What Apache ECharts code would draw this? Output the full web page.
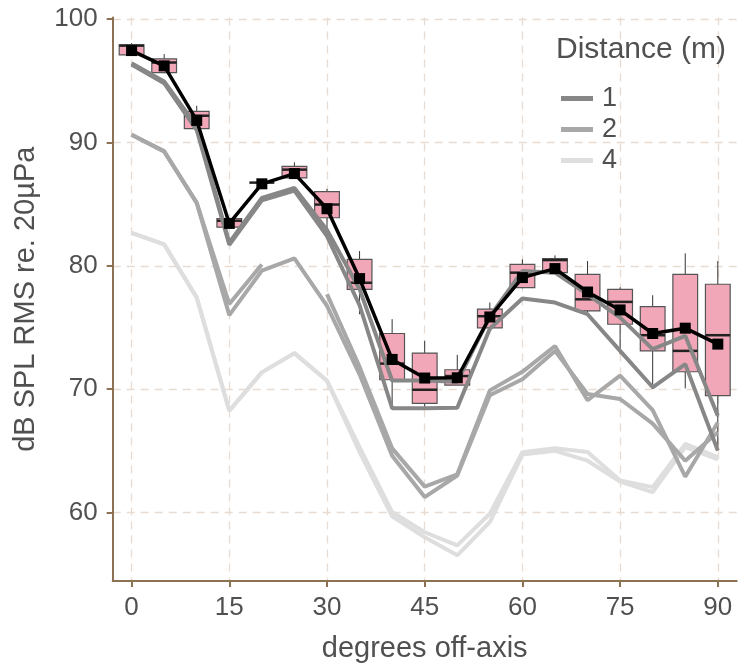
<!DOCTYPE html>
<html><head><meta charset="utf-8">
<script src="https://cdn.jsdelivr.net/npm/echarts@6/dist/echarts.min.js"></script>
<style>html,body{margin:0;padding:0;background:#fff}#c{width:739px;height:668px}</style>
</head><body><div id="c"></div>
<script>
// ---- data ----
const degrees   = [0, 5, 10, 15, 20, 25, 30, 35, 40, 45, 50, 55, 60, 65, 70, 75, 80, 85, 90];
const boxMax    = [98.04, 97.15, 92.97, 83.83, 86.74, 88.38, 86.23, 81.19, 75.67, 73.91, 72.78, 77.02, 80.52, 80.84, 80.38, 78.25, 77.61, 81.00, 80.38];
const boxQ3     = [97.90, 96.77, 92.51, 83.83, 86.74, 88.06, 86.01, 80.52, 74.51, 72.92, 71.57, 76.48, 80.11, 80.57, 79.30, 78.09, 76.68, 79.30, 78.50];
const boxMedian = [97.84, 96.47, 92.16, 83.65, 86.74, 87.79, 84.96, 78.62, 72.07, 69.95, 71.06, 75.91, 79.44, 80.46, 77.28, 77.07, 74.37, 73.10, 74.37];
const boxQ1     = [97.09, 95.66, 91.11, 83.13, 86.74, 87.12, 83.89, 78.09, 70.76, 68.85, 70.33, 74.96, 78.23, 79.44, 76.34, 75.26, 73.10, 71.41, 69.47];
const boxMin    = [97.09, 95.60, 90.90, 83.13, 86.74, 87.12, 82.81, 76.07, 68.39, 68.39, 70.33, 74.86, 78.17, 79.39, 76.23, 72.84, 70.01, 70.06, 65.02];
const meanSPL   = [97.44, 96.20, 91.78, 83.43, 86.64, 87.47, 84.62, 78.96, 72.41, 70.90, 70.92, 75.85, 79.04, 79.77, 77.87, 76.42, 74.51, 74.94, 73.65];

const dist1a = [96.42, 94.93, 91.30, 81.87, 85.50, 86.30, 82.90, 78.10, 70.70, 70.70, 70.60, 75.90, 79.57, 79.44, 77.69, 75.80, 73.24, 74.32, 67.85];
const dist1b = [96.30, 94.80, 91.00, 81.70, 85.30, 86.10, 82.40, 76.80, 68.45, 68.45, 68.50, 74.90, 77.34, 77.02, 76.07, 73.10, 70.15, 72.03, 65.02];
const dist2a = [90.62, 89.27, 85.10, 76.90, 80.10, null, 77.70, 71.80, 65.20, 62.10, 63.10, 69.90, 71.40, 73.50, 69.10, 71.10, 68.30, 62.90, 67.30];
const dist2b = [90.62, 89.27, 85.10, 76.00, 79.60, 80.60, 76.75, 71.20, 64.60, 61.25, 63.00, 69.50, 70.80, 73.10, 69.60, 69.20, 67.20, 64.20, 66.50];
const dist4a = [82.67, 81.73, 77.42, 68.25, 71.36, 72.92, 70.68, 65.30, 60.04, 58.40, 57.34, 59.90, 64.89, 65.20, 64.90, 62.60, 62.06, 65.56, 64.50];
const dist4b = [82.67, 81.73, 77.42, 68.25, 71.36, 72.92, 70.68, 64.90, 59.70, 58.00, 56.53, 59.23, 64.70, 65.00, 64.20, 62.50, 61.65, 65.30, 64.30];

const xTicks = [0, 15, 30, 45, 60, 75, 90];
const yTicks = [60, 70, 80, 90, 100];
const distanceNames = ['1', '2', '4'];

// ---- styles ----
const FONT = "'Liberation Sans', Arial, sans-serif";
const AXIS_COLOR = '#8c7152';
const GRID_COLOR = '#e8dcd2';
const TEXT_COLOR = '#505050';
const DIST_COLORS = ['#878787', '#a8a8a8', '#dedede'];
const BOX_WIDTH_DEG = 3.8;

const pairs = arr => degrees.map((d, i) => [d, arr[i] == null ? '-' : arr[i]]);
const boxData = degrees.map((d, i) => [d, boxMin[i], boxQ1[i], boxMedian[i], boxQ3[i], boxMax[i]]);

function renderBox(params, api) {
  const x = api.value(0);
  const pMin = api.coord([x, api.value(1)]);
  const pQ1 = api.coord([x, api.value(2)]);
  const pMed = api.coord([x, api.value(3)]);
  const pQ3 = api.coord([x, api.value(4)]);
  const pMax = api.coord([x, api.value(5)]);
  const half = api.size([BOX_WIDTH_DEG, 0])[0] / 2;
  const cx = pMed[0];
  return {
    type: 'group',
    children: [
      { type: 'line', shape: { x1: cx, y1: pMax[1], x2: cx, y2: pQ3[1] }, style: { stroke: '#333', lineWidth: 1 } },
      { type: 'line', shape: { x1: cx, y1: pQ1[1], x2: cx, y2: pMin[1] }, style: { stroke: '#333', lineWidth: 1 } },
      { type: 'rect', shape: { x: cx - half, y: pQ3[1], width: half * 2, height: pQ1[1] - pQ3[1] },
        style: { fill: '#f1a7b8', stroke: '#555', lineWidth: 1.2 } },
      { type: 'line', shape: { x1: cx - half, y1: pMed[1], x2: cx + half, y2: pMed[1] }, style: { stroke: '#222', lineWidth: 2.5 } }
    ]
  };
}

function grayLine(name, arr, color) {
  return {
    type: 'line', name: name, data: pairs(arr), symbol: 'none', connectNulls: false,
    lineStyle: { color: color, width: 4 }, itemStyle: { color: color },
    z: 3, silent: true, animation: false
  };
}

const chart = echarts.init(document.getElementById('c'), null, { renderer: 'canvas' });
chart.setOption({
  animation: false,
  backgroundColor: '#fff',
  textStyle: { fontFamily: FONT },
  title: {
    text: 'Distance (m)', left: 551, top: 30,
    textStyle: { fontFamily: FONT, fontSize: 30, fontWeight: 'normal', color: TEXT_COLOR }
  },
  legend: {
    data: distanceNames, orient: 'vertical', left: 556, top: 80,
    icon: 'rect', itemWidth: 32, itemHeight: 5, itemGap: 4,
    textStyle: { fontFamily: FONT, fontSize: 27, color: TEXT_COLOR, padding: [0, 0, 0, 4] }
  },
  grid: { left: 112.7, right: 2.3, top: 17.5, bottom: 85.3, containLabel: false },
  xAxis: {
    type: 'value', min: -2.9, max: 92.9,
    name: 'degrees off-axis', nameLocation: 'middle', nameGap: 53,
    nameTextStyle: { fontFamily: FONT, fontSize: 29, color: TEXT_COLOR },
    axisLine: { show: true, onZero: false, lineStyle: { color: AXIS_COLOR, width: 2 } },
    axisTick: { show: true, customValues: xTicks, length: 6, lineStyle: { color: AXIS_COLOR, width: 2 } },
    axisLabel: { customValues: xTicks, margin: 14, fontFamily: FONT, fontSize: 26, color: TEXT_COLOR },
    splitLine: { show: true, lineStyle: { color: GRID_COLOR, width: 1.3, type: [8, 6] } }
  },
  yAxis: {
    type: 'value', min: 54.45, max: 100.12,
    name: 'dB SPL RMS re. 20µPa', nameLocation: 'middle', nameGap: 72,
    nameTextStyle: { fontFamily: FONT, fontSize: 29, color: TEXT_COLOR },
    axisLine: { show: true, onZero: false, lineStyle: { color: AXIS_COLOR, width: 2 } },
    axisTick: { show: true, customValues: yTicks, length: 6, lineStyle: { color: AXIS_COLOR, width: 2 } },
    axisLabel: { customValues: yTicks, margin: 15, fontFamily: FONT, fontSize: 26, color: TEXT_COLOR },
    splitLine: { show: true, lineStyle: { color: GRID_COLOR, width: 1.3, type: [8, 6] } }
  },
  series: [
    { type: 'custom', name: 'box', data: boxData, renderItem: renderBox, z: 2, silent: true,
      encode: { x: 0, y: [1, 2, 3, 4, 5] } },
    grayLine('4', dist4a, DIST_COLORS[2]),
    grayLine('4', dist4b, DIST_COLORS[2]),
    grayLine('2', dist2a, DIST_COLORS[1]),
    grayLine('2', dist2b, DIST_COLORS[1]),
    grayLine('1', dist1a, DIST_COLORS[0]),
    grayLine('1', dist1b, DIST_COLORS[0]),
    { type: 'line', name: 'mean', data: pairs(meanSPL), symbol: 'rect', symbolSize: 11,
      lineStyle: { color: '#000', width: 3.5 }, itemStyle: { color: '#000' }, z: 5, silent: true }
  ]
});
</script></body></html>
